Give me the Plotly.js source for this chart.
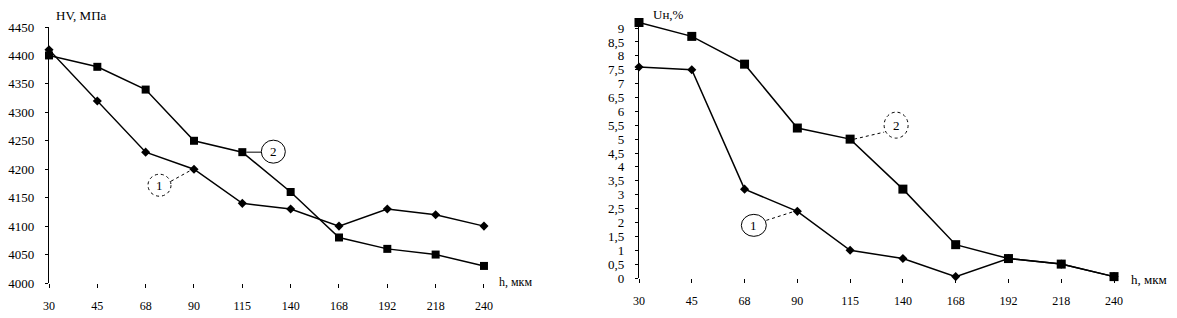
<!DOCTYPE html>
<html>
<head>
<meta charset="utf-8">
<script src="https://cdn.plot.ly/plotly-3.0.1.min.js"></script>
<style>html,body{margin:0;padding:0;background:#fff;}#chart{width:1177px;height:318px;}</style>
</head>
<body>
<div id="chart"></div>
<script>
// ---- data ----
const categories = ['30','45','68','90','115','140','168','192','218','240'];
const hv1 = [4410,4320,4230,4200,4140,4130,4100,4130,4120,4100];
const hv2 = [4400,4380,4340,4250,4230,4160,4080,4060,4050,4030];
const u1  = [7.6,7.5,3.2,2.4,1.0,0.7,0.05,0.7,0.5,0.05];
const u2  = [9.2,8.7,7.7,5.4,5.0,3.2,1.2,0.7,0.5,0.05];
const hvTicks = [4000,4050,4100,4150,4200,4250,4300,4350,4400,4450];
const uTicks = [0,0.5,1,1.5,2,2.5,3,3.5,4,4.5,5,5.5,6,6.5,7,7.5,8,8.5,9];
const uTickText = uTicks.map(v => String(v).replace('.', ','));
const xTitle = 'h, мкм';
const hvTitle = 'HV, МПа';
const uTitle = 'Uн,%';

const xi = categories.map((_, i) => i);
const FONT = 'Liberation Serif, Times New Roman, serif';
const W = 1177, H = 318;

function line(x, y, xa, ya, sym, size) {
  return {x: x, y: y, xaxis: xa, yaxis: ya, type: 'scatter', mode: 'lines+markers',
    cliponaxis: false, showlegend: false, hoverinfo: 'skip',
    line: {color: '#000', width: 1.5},
    marker: {symbol: sym, size: size, color: '#000'}};
}

const traces = [
  line(xi, hv1, 'x', 'y', 'diamond', 7),
  line(xi, hv2, 'x', 'y', 'square', 8),
  line(xi, u1, 'x2', 'y2', 'diamond', 7),
  line(xi, u2, 'x2', 'y2', 'square', 9)
];

const xCommon = {
  tickmode: 'array', tickvals: xi, ticktext: categories,
  showgrid: false, zeroline: false, showline: false,
  ticks: 'outside', ticklen: 4, tickwidth: 1, tickcolor: '#000',
  ticklabelstandoff: 8, fixedrange: true,
  tickfont: {family: FONT, size: 12, color: '#000'}
};
const yCommon = {
  showgrid: false, zeroline: false, showline: true, linecolor: '#000', linewidth: 1.2,
  ticks: 'outside', ticklen: 3, tickcolor: '#000', tickwidth: 1,
  ticklabelstandoff: 8, fixedrange: true,
  tickfont: {family: FONT, size: 13, color: '#000'}
};

const layout = {
  width: W, height: H,
  margin: {l: 0, r: 0, t: 0, b: 0},
  paper_bgcolor: '#fff', plot_bgcolor: 'rgba(0,0,0,0)',
  font: {family: FONT, size: 12, color: '#000'},
  xaxis: Object.assign({}, xCommon, {domain: [49 / W, 545 / W], range: [0, (545 - 49) / 48.33], anchor: 'y'}),
  yaxis: Object.assign({}, yCommon, {domain: [(H - 283) / H, (H - 27) / H], range: [4000, 4450],
    tickmode: 'array', tickvals: hvTicks, ticktext: hvTicks.map(String), anchor: 'x'}),
  xaxis2: Object.assign({}, xCommon, {domain: [639 / W, 1], range: [0, (W - 639) / 52.78], anchor: 'y2'}),
  yaxis2: Object.assign({}, yCommon, {domain: [(H - 278) / H, (H - 20) / H], range: [0, 9.29],
    tickmode: 'array', tickvals: uTicks, ticktext: uTickText, anchor: 'x2'}),
  annotations: [
    {xref: 'x', yref: 'y', x: 0, y: 4450, xanchor: 'left', yanchor: 'middle', xshift: 5, yshift: 11,
      text: hvTitle, showarrow: false, font: {family: FONT, size: 13}},
    {xref: 'x', yref: 'y', x: 9.66, y: 4000, xanchor: 'center', yanchor: 'middle', yshift: 1,
      text: xTitle, showarrow: false, font: {family: FONT, size: 12}},
    {xref: 'x2', yref: 'y2', x: 0, y: 9.29, xanchor: 'left', yanchor: 'middle', xshift: 12, yshift: 5,
      text: uTitle, showarrow: false, font: {family: FONT, size: 13}},
    {xref: 'x2', yref: 'y2', x: 9.66, y: 0, xanchor: 'center', yanchor: 'middle', yshift: -1,
      text: xTitle, showarrow: false, font: {family: FONT, size: 13}},
    // circled labels
    {xref: 'x', yref: 'y', x: 4, y: hv2[4], xshift: 31, yshift: 1, text: '2', showarrow: false, font: {family: FONT, size: 13}},
    {xref: 'x', yref: 'y', x: 3, y: hv1[3], xshift: -34.5, yshift: -16, text: '1', showarrow: false, font: {family: FONT, size: 13}},
    {xref: 'x2', yref: 'y2', x: 3, y: u1[3], xshift: -43.5, yshift: -14, text: '1', showarrow: false, font: {family: FONT, size: 13}},
    {xref: 'x2', yref: 'y2', x: 4, y: u2[4], xshift: 46, yshift: 14, text: '2', showarrow: false, font: {family: FONT, size: 13}}
  ],
  shapes: [
    // left "2": solid circle + solid leader
    {type: 'circle', xref: 'x', yref: 'y', xsizemode: 'pixel', ysizemode: 'pixel', xanchor: 4, yanchor: hv2[4],
      x0: 19, x1: 43, y0: -11, y1: 12, line: {color: '#000', width: 1}},
    {type: 'line', xref: 'x', yref: 'y', xsizemode: 'pixel', ysizemode: 'pixel', xanchor: 4, yanchor: hv2[4],
      x0: 4, x1: 19, y0: 0, y1: 0, line: {color: '#000', width: 1}},
    // left "1": dashed circle + dashed leader
    {type: 'circle', xref: 'x', yref: 'y', xsizemode: 'pixel', ysizemode: 'pixel', xanchor: 3, yanchor: hv1[3],
      x0: -46, x1: -23, y0: -27, y1: -5, line: {color: '#000', width: 1, dash: 'dot'}},
    {type: 'line', xref: 'x', yref: 'y', xsizemode: 'pixel', ysizemode: 'pixel', xanchor: 3, yanchor: hv1[3],
      x0: -23, x1: -3, y0: -12, y1: -1, line: {color: '#000', width: 1, dash: 'dot'}},
    // right "1": solid circle + dashed leader
    {type: 'circle', xref: 'x2', yref: 'y2', xsizemode: 'pixel', ysizemode: 'pixel', xanchor: 3, yanchor: u1[3],
      x0: -56, x1: -31, y0: -25, y1: -3, line: {color: '#000', width: 1}},
    {type: 'line', xref: 'x2', yref: 'y2', xsizemode: 'pixel', ysizemode: 'pixel', xanchor: 3, yanchor: u1[3],
      x0: -31, x1: -3, y0: -9, y1: 0, line: {color: '#000', width: 1, dash: 'dot'}},
    // right "2": dashed circle + dashed leader
    {type: 'circle', xref: 'x2', yref: 'y2', xsizemode: 'pixel', ysizemode: 'pixel', xanchor: 4, yanchor: u2[4],
      x0: 34, x1: 58, y0: 1, y1: 27, line: {color: '#000', width: 1, dash: 'dot'}},
    {type: 'line', xref: 'x2', yref: 'y2', xsizemode: 'pixel', ysizemode: 'pixel', xanchor: 4, yanchor: u2[4],
      x0: 4, x1: 34, y0: 0, y1: 7, line: {color: '#000', width: 1, dash: 'dot'}}
  ]
};

Plotly.newPlot('chart', traces, layout, {staticPlot: true, displayModeBar: false});
</script>
</body>
</html>
